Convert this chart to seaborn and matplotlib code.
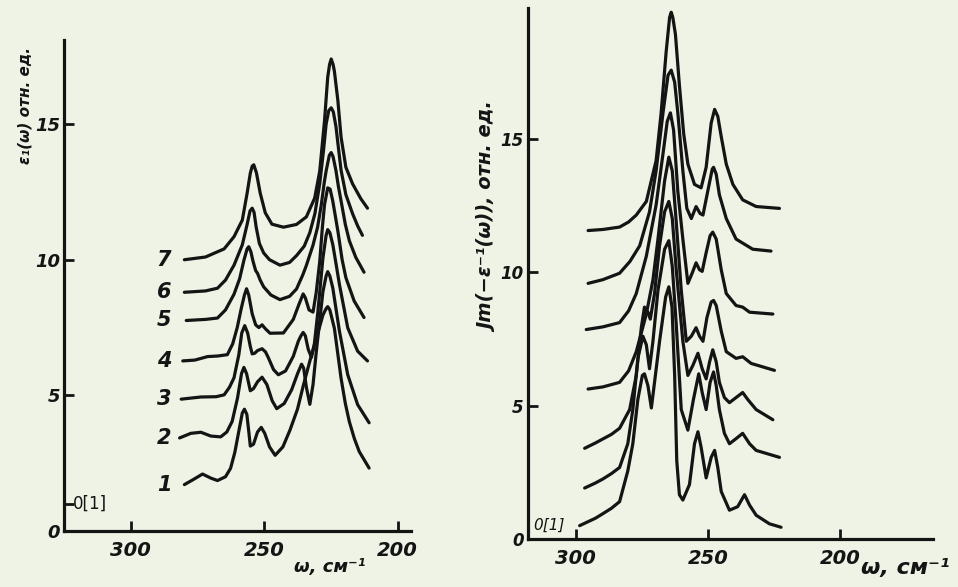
import numpy as np
import pandas as pd
import matplotlib
matplotlib.use("Agg")
import matplotlib.pyplot as plt
import seaborn as sns

# ---- left panel: eps1(omega), curves 1..7 (bottom to top) ----
eps1_w = [279.9, 276.5, 273.1, 270.0, 267.5, 264.5, 262.6, 261.0, 259.5, 258.2, 257.4, 256.5, 255.7, 255.2,
          254.0, 252.5, 251.1, 249.8, 248.0, 245.9, 243.0, 240.3, 237.5, 235.4, 232.8, 230.5, 228.0, 226.8,
          226.2, 225.4, 223.7, 221.2, 219.6, 218.1, 216.2, 214.4, 210.7]
eps1_y = [1.71, 1.9, 2.1, 1.95, 1.86, 2.0, 2.31, 2.9, 3.68, 4.35, 4.49, 4.3, 3.6, 3.13,
          3.2, 3.65, 3.82, 3.6, 3.1, 2.79, 3.1, 3.73, 4.5, 5.34, 6.3, 7.09, 7.96, 8.2,
          8.27, 8.15, 7.47, 5.63, 4.7, 4.03, 3.4, 2.93, 2.32]
eps2_w = [281.7, 277.5, 273.7, 270.0, 266.3, 264.0, 262.0, 260.0, 258.5, 257.6, 256.6, 255.2, 254.0, 252.5,
          250.8, 249.0, 247.0, 245.3, 242.5, 239.7, 237.5, 236.0, 235.2, 234.2, 232.9, 231.7, 230.5, 228.0,
          226.8, 226.2, 225.4, 224.3, 221.8, 218.7, 215.0, 210.7]
eps2_y = [3.43, 3.6, 3.64, 3.5, 3.47, 3.65, 4.04, 4.9, 5.8, 6.03, 5.8, 5.17, 5.25, 5.5,
          5.67, 5.4, 4.8, 4.51, 4.7, 5.21, 5.8, 6.15, 6.0, 5.3, 4.67, 5.4, 6.59, 8.82,
          9.4, 9.56, 9.4, 8.96, 7.36, 5.76, 4.66, 3.99]
eps3_w = [281.1, 273.7, 268.0, 265.0, 263.0, 261.3, 259.5, 258.4, 257.3, 256.2, 255.2, 254.5, 253.6, 252.5,
          250.8, 249.5, 248.5, 246.5, 244.7, 242.0, 239.1, 237.2, 236.2, 235.4, 234.6, 233.5, 232.3, 231.2,
          229.9, 228.0, 226.8, 226.2, 225.4, 224.3, 223.0, 221.8, 218.7, 215.0, 211.3]
eps3_y = [4.86, 4.94, 4.95, 5.02, 5.3, 5.65, 6.5, 7.3, 7.57, 7.3, 6.8, 6.53, 6.55, 6.65,
          6.72, 6.6, 6.4, 5.95, 5.76, 5.9, 6.44, 7.0, 7.2, 7.32, 7.2, 6.7, 6.4, 6.9,
          8.07, 10.06, 10.9, 11.11, 11.0, 10.56, 9.8, 9.08, 7.49, 6.63, 6.27]
eps4_w = [280.5, 276.0, 271.2, 267.5, 263.8, 261.8, 260.1, 258.6, 257.4, 256.6, 255.8, 254.5, 253.2, 252.0,
          250.8, 249.5, 247.8, 242.8, 239.1, 237.0, 235.4, 234.6, 233.2, 231.7, 230.5, 229.2, 228.2, 227.4,
          226.2, 225.3, 224.3, 222.4, 220.8, 219.4, 216.3, 212.6]
eps4_y = [6.27, 6.3, 6.43, 6.45, 6.5, 6.9, 7.5, 8.2, 8.7, 8.93, 8.7, 8.01, 7.6, 7.5,
          7.6, 7.45, 7.29, 7.3, 7.8, 8.35, 8.74, 8.6, 8.15, 8.07, 8.8, 9.93, 11.2, 12.03,
          12.65, 12.6, 12.16, 11.06, 10.0, 9.34, 8.48, 7.87]
eps5_w = [279.2, 272.0, 267.5, 264.5, 261.3, 259.2, 257.6, 256.4, 255.8, 255.0, 254.2, 253.2, 252.5, 251.5,
          250.2, 247.5, 244.1, 240.5, 237.9, 235.5, 234.2, 231.7, 230.0, 228.6, 227.5, 226.8, 225.6, 224.9,
          224.2, 223.1, 222.2, 221.2, 219.6, 218.1, 215.7, 212.6]
eps5_y = [7.76, 7.8, 7.85, 8.15, 8.73, 9.3, 9.98, 10.4, 10.48, 10.3, 9.95, 9.6, 9.5, 9.25,
          9.0, 8.7, 8.53, 8.65, 8.92, 9.45, 9.79, 10.54, 11.2, 12.03, 12.85, 13.27, 13.85, 13.95,
          13.8, 13.28, 12.7, 12.17, 11.3, 10.7, 10.09, 9.54]
eps6_w = [279.9, 272.0, 267.5, 264.5, 261.3, 258.2, 256.4, 255.3, 254.5, 253.8, 253.0, 251.8, 250.2, 248.0,
          244.1, 240.5, 237.9, 235.0, 232.9, 231.0, 229.2, 227.8, 226.8, 225.8, 224.9, 224.1, 223.1, 222.4,
          221.2, 219.4, 216.9, 215.0, 213.2]
eps6_y = [8.8, 8.85, 8.95, 9.25, 9.8, 10.55, 11.3, 11.8, 11.9, 11.75, 11.2, 10.6, 10.25, 10.0,
          9.8, 9.9, 10.15, 10.5, 11.0, 11.7, 12.8, 14.0, 15.0, 15.5, 15.6, 15.45, 14.9, 14.3,
          13.3, 12.4, 11.7, 11.25, 10.9]
eps7_w = [279.9, 272.0, 265.0, 261.3, 258.2, 256.4, 255.2, 254.5, 253.9, 252.9, 251.5, 249.6, 247.1, 242.8,
          237.9, 234.2, 231.1, 229.2, 227.4, 226.2, 225.5, 224.9, 224.2, 223.7, 222.4, 221.2, 219.4, 216.9,
          213.8, 211.3]
eps7_y = [10.0, 10.1, 10.4, 10.85, 11.46, 12.45, 13.19, 13.45, 13.5, 13.2, 12.46, 11.73, 11.31, 11.2,
          11.3, 11.58, 12.27, 13.26, 15.12, 16.73, 17.2, 17.4, 17.2, 16.95, 15.87, 14.52, 13.41, 12.8,
          12.25, 11.9]
eps_names = ["1", "2", "3", "4", "5", "6", "7"]

# ---- right panel: Im(-1/eps), curves 1..7 (bottom to top) ----
loss1_w = [298.5, 292.5, 289.7, 286.5, 283.4, 280.3, 278.4, 276.5, 274.8, 274.0, 272.7, 271.4, 270.2, 268.3,
           266.0, 264.8, 263.6, 262.6, 261.8, 260.8, 259.5, 257.0, 255.1, 253.8, 252.6, 250.7, 248.8, 247.5,
           246.3, 245.0, 241.9, 238.8, 236.2, 234.3, 231.8, 226.8, 222.4]
loss1_y = [0.5, 0.78, 0.95, 1.15, 1.4, 2.55, 3.57, 5.23, 6.13, 6.19, 5.75, 4.91, 5.87, 7.41,
           9.07, 9.45, 8.69, 6.13, 2.93, 1.66, 1.46, 2.04, 3.57, 4.02, 3.44, 2.29, 3.06, 3.32,
           2.68, 1.78, 1.08, 1.21, 1.66, 1.27, 0.89, 0.57, 0.44]
loss2_w = [296.6, 292.5, 289.7, 286.5, 283.4, 280.3, 278.4, 276.5, 274.6, 273.3, 272.1, 270.8, 268.9, 266.4,
           264.8, 263.5, 262.0, 260.1, 257.6, 255.5, 253.5, 252.2, 250.7, 249.2, 247.9, 246.9, 245.7, 243.8,
           241.9, 239.4, 236.9, 234.3, 231.8, 223.0]
loss2_y = [1.91, 2.1, 2.25, 2.45, 2.68, 3.57, 4.85, 6.77, 7.6, 7.28, 6.38, 7.41, 9.32, 10.86,
           11.18, 10.22, 8.05, 4.85, 4.08, 5.23, 6.19, 5.49, 4.85, 5.87, 6.26, 5.75, 4.85, 3.96,
           3.57, 3.76, 3.96, 3.57, 3.32, 3.06]
loss3_w = [296.6, 292.5, 289.7, 286.5, 283.4, 279.6, 277.1, 275.2, 274.0, 272.7, 271.8, 270.2, 268.3, 266.4,
           264.8, 263.5, 262.0, 259.5, 257.6, 255.7, 253.8, 252.2, 250.7, 249.4, 248.2, 246.9, 245.7, 243.8,
           241.9, 239.4, 236.9, 235.0, 231.8, 225.5]
loss3_y = [3.4, 3.6, 3.75, 3.92, 4.15, 4.85, 6.13, 7.92, 8.69, 8.5, 8.24, 9.2, 10.99, 12.26,
           12.65, 12.01, 10.09, 7.41, 6.13, 6.51, 6.96, 6.38, 6.0, 6.64, 7.09, 6.64, 5.87, 5.3,
           5.11, 5.3, 5.49, 5.23, 4.85, 4.47]
loss4_w = [295.3, 289.7, 283.4, 280.0, 277.1, 273.3, 270.8, 268.9, 266.4, 264.8, 263.5, 262.0, 260.1, 258.2,
           256.3, 254.5, 253.2, 251.9, 250.4, 248.8, 247.9, 246.9, 245.0, 243.1, 239.4, 236.9, 233.7, 224.9]
loss4_y = [5.62, 5.7, 5.87, 6.3, 7.02, 8.43, 9.71, 11.24, 13.42, 14.31, 13.8, 11.88, 9.32, 7.41,
           7.6, 7.92, 7.6, 7.41, 8.3, 8.88, 8.94, 8.75, 7.79, 7.02, 6.77, 6.83, 6.58, 6.32]
loss5_w = [296.0, 289.7, 283.4, 280.0, 277.1, 273.3, 269.6, 267.0, 265.4, 264.2, 263.0, 261.4, 259.5, 257.6,
           256.0, 254.5, 253.2, 252.2, 250.7, 249.2, 248.2, 246.9, 245.0, 243.1, 239.4, 236.9, 234.3, 225.5]
loss5_y = [7.85, 7.95, 8.11, 8.55, 9.2, 10.6, 12.52, 14.44, 15.65, 15.97, 15.33, 13.03, 11.24, 9.58,
           9.96, 10.35, 10.09, 10.03, 10.73, 11.37, 11.5, 11.24, 10.09, 9.2, 8.75, 8.69, 8.5, 8.43]
loss6_w = [295.3, 289.7, 283.4, 279.5, 275.8, 272.1, 269.6, 267.0, 265.1, 263.9, 262.6, 261.4, 259.5, 258.0,
           256.3, 254.5, 253.0, 251.9, 250.1, 248.4, 247.9, 246.9, 245.7, 243.1, 239.4, 233.1, 226.2]
loss6_y = [9.58, 9.72, 9.96, 10.4, 10.99, 12.26, 13.8, 15.97, 17.38, 17.57, 17.12, 15.97, 13.8, 12.39,
           12.01, 12.46, 12.2, 12.14, 13.03, 13.86, 13.93, 13.67, 12.9, 12.01, 11.24, 10.86, 10.79]
loss7_w = [295.3, 289.7, 283.4, 280.0, 277.1, 273.3, 269.6, 267.7, 265.8, 264.5, 263.9, 263.3, 262.3, 260.8,
           259.2, 257.6, 255.1, 252.6, 250.7, 248.8, 247.5, 246.3, 245.0, 243.1, 240.6, 236.9, 231.8, 223.0]
loss7_y = [11.56, 11.6, 11.69, 11.88, 12.14, 12.65, 14.18, 15.97, 18.27, 19.55, 19.74, 19.55, 18.91, 17.0,
           15.2, 14.05, 13.29, 13.16, 13.93, 15.59, 16.1, 15.84, 15.08, 14.05, 13.29, 12.71, 12.46, 12.39]

x_ticks = [300, 250, 200]
y_ticks = [0, 5, 10, 15]


def long_frame(ws, ys, names):
    parts = [pd.DataFrame({"omega": w, "value": y, "curve": n}) for n, w, y in zip(names, ws, ys)]
    return pd.concat(parts, ignore_index=True)


eps_df = long_frame([eps1_w, eps2_w, eps3_w, eps4_w, eps5_w, eps6_w, eps7_w],
                    [eps1_y, eps2_y, eps3_y, eps4_y, eps5_y, eps6_y, eps7_y], eps_names)
loss_df = long_frame([loss1_w, loss2_w, loss3_w, loss4_w, loss5_w, loss6_w, loss7_w],
                     [loss1_y, loss2_y, loss3_y, loss4_y, loss5_y, loss6_y, loss7_y], eps_names)

sns.set_theme(style="ticks")
plt.rcParams["font.family"] = ["DejaVu Sans"]
paper = "#eef3e5"
ink = "#141414"

fig = plt.figure(figsize=(9.58, 5.87), dpi=100, facecolor=paper)
W, H = 958, 587


def px_axes(x0, y0, x1, y1):
    return fig.add_axes([x0 / W, 1 - y1 / H, (x1 - x0) / W, (y1 - y0) / H])


ax1 = px_axes(64, 40, 411, 531)
ax2 = px_axes(528, 8, 933, 539)

for ax, df in [(ax1, eps_df), (ax2, loss_df)]:
    ax.set_facecolor(paper)
    sns.lineplot(data=df, x="omega", y="value", units="curve", estimator=None, sort=False,
                 color=ink, linewidth=2.3, legend=False, ax=ax)
    sns.despine(ax=ax)
    for s in ["left", "bottom"]:
        ax.spines[s].set_linewidth(2.3)
        ax.spines[s].set_color(ink)
    ax.set_xlabel("")
    ax.set_ylabel("")
    ax.set_xticks(x_ticks)
    ax.set_xticklabels([str(t) for t in x_ticks], fontsize=14, fontstyle="italic",
                       fontweight="bold", color=ink)
    ax.tick_params(axis="x", direction="in", length=7, width=2, colors=ink, pad=7)
    ax.tick_params(axis="y", direction="in", length=7, width=2, colors=ink, pad=3)
    for ln in ax.get_lines():
        ln.set_solid_joinstyle("round")
        ln.set_solid_capstyle("round")

ax1.set_xlim(325, 195)
ax1.set_ylim(0, 18.1)
ax1.set_yticks([0, 1, 5, 10, 15])
ax1.set_yticklabels(["0", "", "5", "10", "15"], fontsize=13, fontstyle="italic",
                    fontweight="bold", color=ink)
ax1.text(321.8, 1.0, "0[1]", fontsize=12, color=ink, va="center", ha="left")

ax2.set_xlim(318, 165)
ax2.set_ylim(0, 19.9)
ax2.set_yticks(y_ticks)
ax2.set_yticklabels([str(t) for t in y_ticks], fontsize=12, fontstyle="italic",
                    fontweight="bold", color=ink)
ax2.text(316, 0.5, "0[1]", fontsize=11, fontstyle="italic", color=ink, va="center", ha="left")

# curve numbers on the left panel
for name, ys in zip(eps_names, [eps1_y, eps2_y, eps3_y, eps4_y, eps5_y, eps6_y, eps7_y]):
    ax1.text(287.5, ys[0], name, fontsize=15, fontstyle="italic", fontweight="bold",
             color=ink, ha="center", va="center")

lab = dict(fontstyle="italic", fontweight="bold", color=ink)
fig.text(25 / W, 1 - 106 / H, "ε₁(ω) отн. ед.", rotation=90, fontsize=11,
         ha="center", va="center", **lab)
fig.text(489 / W, 1 - 218 / H, "Jm(−ε⁻¹(ω)), отн. ед.", rotation=90, fontsize=14,
         ha="center", va="center", **lab)
fig.text(330 / W, 1 - 567 / H, "ω, см⁻¹", fontsize=13, ha="center", va="center", **lab)
fig.text(905 / W, 1 - 568 / H, "ω, см⁻¹", fontsize=16, ha="center", va="center", **lab)

fig.savefig("out.png", dpi=100, facecolor=paper)
